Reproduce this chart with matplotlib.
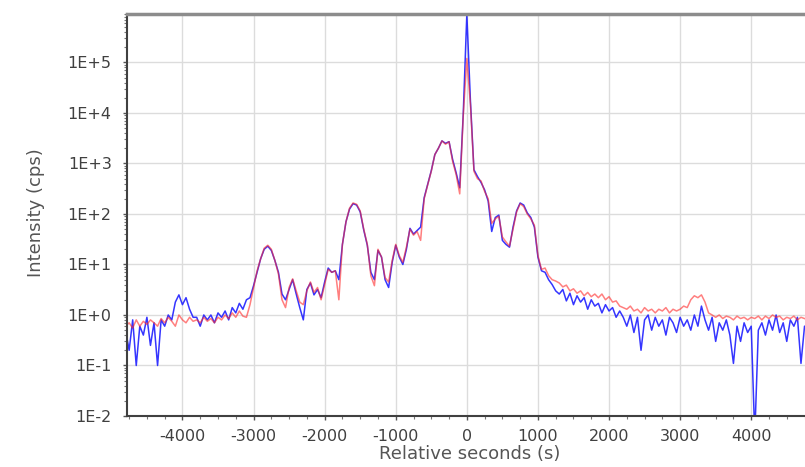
import numpy as np
import matplotlib
matplotlib.use("Agg")
import matplotlib.pyplot as plt
from matplotlib.ticker import FixedLocator, MultipleLocator, FuncFormatter

plt.rcParams["axes.unicode_minus"] = False

# sampling of the scan: one point every 50 s starting at -4800 s
t_start = -4800
t_step = 50

# intensity (cps), one row = 1000 s
blue_cps = [
    0.5, 0.2, 0.8, 0.1, 0.6, 0.4, 0.9, 0.25, 0.7, 0.1, 0.8, 0.6, 1.0, 0.8, 1.8, 2.5, 1.6, 2.2, 1.3, 0.9,
    0.9, 0.6, 1.0, 0.8, 1.0, 0.7, 1.1, 0.9, 1.2, 0.8, 1.4, 1.1, 1.7, 1.3, 2.0, 2.2, 3.8, 7.0, 13, 20,
    23, 19, 12, 7, 2.6, 2.0, 3.2, 5.0, 2.6, 1.4, 0.8, 3.2, 4.3, 2.5, 3.2, 2.2, 4.5, 8.5, 7.0, 7.5,
    5.0, 25, 70, 125, 160, 150, 110, 48, 24, 7, 5.0, 19, 14, 5, 3.5, 11, 24, 14, 10, 20,
    52, 40, 47, 55, 210, 390, 720, 1500, 2000, 2800, 2500, 2700, 1200, 650, 330, 10000, 900000, 18000, 750, 550,
    420, 300, 180, 45, 85, 95, 30, 25, 22, 55, 115, 165, 150, 105, 85, 55, 14, 7.5, 7, 5,
    4.0, 3.0, 2.6, 3.2, 1.9, 2.7, 1.6, 2.4, 1.8, 2.2, 1.3, 2.0, 1.5, 1.7, 1.1, 1.6, 1.2, 1.4, 0.9, 1.2,
    0.9, 0.6, 1.0, 0.45, 0.9, 0.2, 0.8, 1.0, 0.5, 0.9, 0.6, 0.8, 0.4, 0.9, 0.7, 0.45, 0.9, 0.6, 0.8, 0.5,
    1.0, 0.6, 1.5, 0.8, 0.5, 0.9, 0.3, 0.7, 0.5, 0.8, 0.4, 0.11, 0.6, 0.3, 0.7, 0.45, 0.6, 0.004, 0.5, 0.7,
    0.4, 0.8, 0.5, 1.0, 0.45, 0.7, 0.3, 0.8, 0.6, 0.9, 0.11, 0.6, 0.5,
]
red_cps = [
    0.6, 0.7, 0.55, 0.8, 0.6, 0.75, 0.65, 0.8, 0.7, 0.6, 0.85, 0.7, 0.9, 0.75, 0.6, 1.0, 0.8, 0.7, 0.9, 0.75,
    0.8, 0.7, 0.9, 0.75, 0.85, 0.7, 0.9, 0.8, 1.0, 0.85, 1.1, 0.9, 1.2, 0.95, 0.9, 1.6, 3.5, 7.5, 13, 21,
    24, 20, 12, 6.5, 2.0, 1.4, 3.5, 5.2, 3.0, 1.8, 1.6, 3.0, 4.5, 2.8, 3.5, 2.0, 4.0, 8.0, 7.0, 7.5,
    2.0, 25, 70, 130, 165, 155, 115, 50, 25, 6, 3.8, 20, 14, 5.5, 4.5, 12, 25, 15, 11, 22,
    50, 38, 45, 30, 200, 380, 700, 1500, 2000, 2800, 2400, 2700, 1100, 600, 250, 9000, 120000, 15000, 700, 500,
    450, 280, 200, 65, 80, 90, 35, 28, 23, 50, 110, 160, 140, 100, 80, 60, 15, 8, 8.5, 6,
    5.0, 4.7, 4.3, 3.6, 3.9, 3.0, 3.3, 2.7, 3.0, 2.4, 2.8, 2.3, 2.6, 2.2, 2.6, 2.0, 2.3, 1.8, 1.9, 1.5,
    1.4, 1.3, 1.5, 1.2, 1.3, 1.1, 1.4, 1.2, 1.3, 1.1, 1.3, 1.2, 1.4, 1.1, 1.3, 1.2, 1.3, 1.5, 1.4, 2.0,
    2.4, 2.2, 2.5, 1.8, 1.1, 1.0, 0.9, 1.0, 0.85, 0.95, 0.9, 0.8, 0.95, 0.85, 0.9, 0.8, 0.9, 0.85, 0.95, 0.8,
    0.95, 0.85, 1.0, 0.9, 0.95, 0.8, 0.9, 0.85, 0.95, 0.8, 0.9, 0.85, 0.8,
]

# decades shown on the y axis, and x tick positions
y_decades = [-2, -1, 0, 1, 2, 3, 4, 5]
x_ticks = [-4000, -3000, -2000, -1000, 0, 1000, 2000, 3000, 4000]

seconds = t_start + t_step * np.arange(len(red_cps))

fig = plt.figure(figsize=(8.05, 4.67), dpi=100)
ax = fig.add_axes([127 / 805, 51 / 467, 694.6 / 805, 402 / 467])

ax.plot(seconds, blue_cps, color="#1f1fff", lw=1.1, alpha=0.9)
ax.plot(seconds, red_cps, color="#ff2a2a", lw=1.1, alpha=0.6)

ax.set_yscale("log")
ax.set_ylim(0.01, 9.1e5)
ax.set_xlim(-4780, 4990)

major_y = [10.0 ** d for d in y_decades]
minor_y = [m * 10.0 ** d for d in y_decades for m in range(2, 10) if m * 10.0 ** d < 9.1e5]
ax.yaxis.set_major_locator(FixedLocator(major_y))
ax.yaxis.set_minor_locator(FixedLocator(minor_y))
ax.yaxis.set_major_formatter(FuncFormatter(lambda v, p: "1E%+d" % round(np.log10(v))))
ax.xaxis.set_major_locator(FixedLocator(x_ticks))
ax.xaxis.set_minor_locator(MultipleLocator(250))
ax.xaxis.set_major_formatter(FuncFormatter(lambda v, p: "%d" % v))

ax.grid(True, which="major", color="#dcdcdc", lw=1.0)
ax.set_axisbelow(True)

ax.tick_params(which="major", direction="out", length=3, width=1, color="#555555",
               labelsize=11.5, labelcolor="#404040")
ax.tick_params(axis="y", which="major", pad=8)
ax.tick_params(axis="x", which="major", pad=6.5)
ax.tick_params(which="minor", direction="out", length=2, width=0.8, color="#777777")

for side in ["left", "bottom"]:
    ax.spines[side].set_color("#404040")
    ax.spines[side].set_linewidth(1.5)
ax.spines["top"].set_color("#8c8c8c")
ax.spines["top"].set_linewidth(2.5)
ax.spines["right"].set_visible(False)

ax.set_ylabel("Intensity (cps)", fontsize=13, color="#555555")
ax.yaxis.set_label_coords(-0.118, 0.507)
ax.set_xlabel("Relative seconds (s)", fontsize=13, color="#555555")
ax.xaxis.set_label_coords(0.493, -0.072)

fig.savefig("out.png", dpi=100)
